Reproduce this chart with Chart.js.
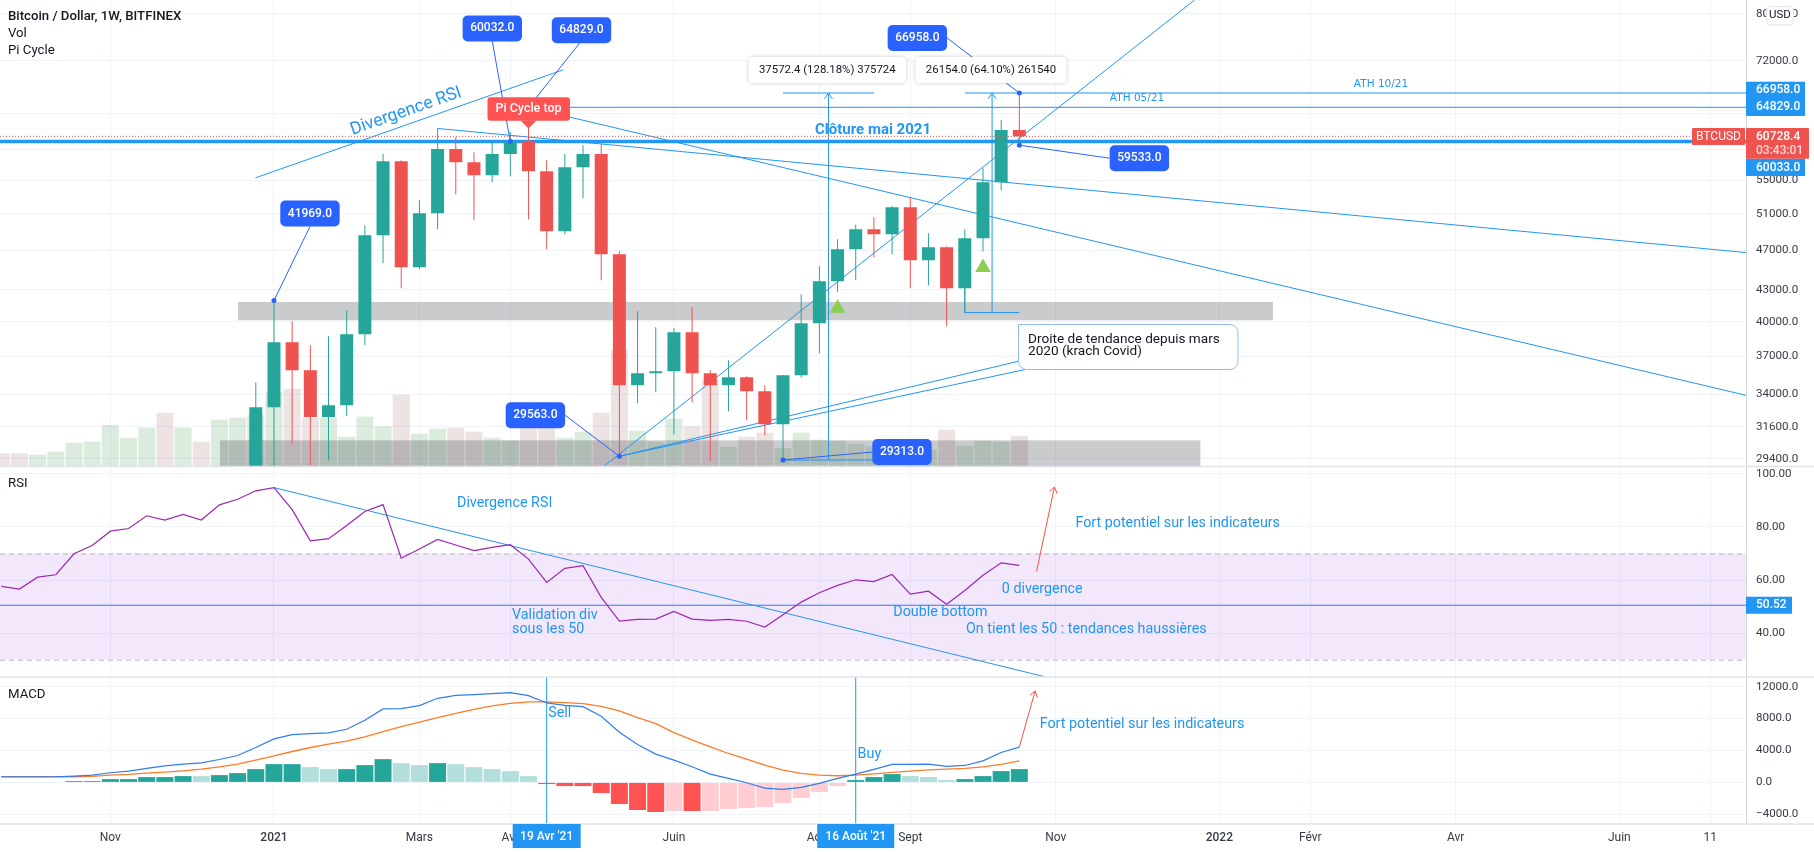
<!DOCTYPE html>
<html>
<head>
<meta charset="utf-8">
<title>Bitcoin / Dollar</title>
<script src="https://cdn.jsdelivr.net/npm/chart.js@4"></script>
<style>
  html, body { margin: 0; padding: 0; background: #fff; overflow: hidden; }
  #chart { display: block; }
</style>
</head>
<body>
<canvas id="chart" width="1814" height="852"></canvas>
<script>
const FONT = 'Roboto, "Noto Sans", sans-serif';
const BLUE = '#2196f3', LABEL_BLUE = '#2962ff', GREEN = '#26a69a', RED = '#ef5350', TICK = '#363a45';

// weekly candles, first row is week -1 : [open, high, low, close]
const candles = [
    [26250, 34916, 25800, 33005], [33005, 41969, 27700, 38207], [38207, 40057, 30411, 35873],
    [35873, 37950, 28960, 32294], [32294, 38727, 29292, 33153], [33153, 41063, 32367, 38900],
    [38900, 49727, 37950, 48620], [48620, 58350, 45647, 57436], [57436, 57550, 43148, 45238],
    [45238, 52606, 45034, 51089], [51089, 61821, 49280, 59010], [59010, 60626, 53322, 57307],
    [57307, 58611, 50288, 55654], [55654, 60218, 54782, 58350], [58350, 61313, 55530, 60032],
    [60032, 64829, 50402, 56157], [56157, 57550, 47110, 49059], [49059, 58350, 48729, 56665],
    [56665, 59543, 52843, 58350], [58350, 59680, 43934, 46583], [46583, 46890, 29563, 34681],
    [34681, 40970, 33304, 35631], [35631, 39520, 34140, 35794], [35794, 39440, 31057, 39077],
    [39077, 41341, 33378, 35631], [35631, 35873, 29248, 34681], [34681, 36690, 32708, 35312],
    [35312, 35400, 32052, 34216], [34216, 34681, 31000, 31765], [31765, 35500, 29313, 35471],
    [35471, 42569, 35300, 39879], [39879, 45340, 37273, 43834], [43834, 48184, 42760, 47110],
    [47110, 49800, 43934, 49280], [49280, 50629, 46270, 48729], [48729, 51900, 46583, 51783],
    [51783, 52963, 43148, 45957], [45957, 48840, 43440, 47320], [47320, 47430, 39609, 43148],
    [43148, 49280, 40849, 48292], [48292, 56550, 46880, 54782], [54782, 62995, 53806, 61590],
    [61590, 66958, 59533, 60728.4]
];
const firstCandle = -1;

// the indicators start at week -15
const firstWeek = -15;
const volume = [12.7, 12.7, 11.3, 14.3, 23.3, 24.3, 41, 28.3, 38.3, 53.3, 38.3, 24.3, 46.3, 48.3, 51.3, 74.3, 77.3, 48.3, 48.3, 29.3,
    49.3, 39.7, 71.3, 32.3, 37.3, 38.3, 34.3, 28.3, 25.7, 49.7, 46.3, 28.3, 34.3, 53.3, 116.3, 35.3, 24.3, 47.3, 39.7, 86.3,
    19.3, 29.3, 33.3, 18, 33.3, 26.3, 25.3, 22.3, 19.7, 18, 18, 16.3, 36.3, 20.3, 25.3, 24.3, 30.3];
const volumeSide = 'rrgggggggrgrggggrrggggrggrrggrrggrrgggrrgrrgggggggrgrgggr';
const rsi = [57.6, 56.6, 61.1, 62.0, 69.9, 73.0, 78.4, 79.4, 84.2, 82.6, 84.7, 82.6, 88.3, 90.4, 93.6, 94.8, 86.5, 74.8, 75.6, 80.5,
    85.8, 88.4, 68.2, 71.7, 75.3, 73.2, 71.1, 72.3, 73.3, 67.9, 59.1, 64.4, 65.4, 53.5, 44.5, 45.2, 45.3, 48.2, 45.3, 44.8,
    45.2, 44.5, 42.3, 46.9, 51.7, 55.2, 58.0, 60.1, 59.4, 62.1, 54.7, 55.8, 50.9, 56.1, 61.8, 66.5, 65.5];
const macd = [708, 708, 708, 708, 792, 917, 1208, 1417, 1750, 2083, 2292, 2458, 2875, 3375, 4375, 5458, 6000, 6125, 6208, 6667,
    7792, 9208, 9250, 9625, 10542, 10917, 11000, 11125, 11250, 10875, 9958, 9667, 9500, 8292, 6292, 4750, 3542, 2792, 1958, 1042,
    500, -42, -708, -875, -625, -125, 500, 1042, 1625, 2250, 2250, 2292, 2000, 2125, 2708, 3750, 4417];
const signal = [708, 708, 708, 708, 708, 750, 917, 1000, 1167, 1292, 1458, 1667, 1958, 2292, 2792, 3333, 3875, 4375, 4792, 5167,
    5708, 6375, 7000, 7542, 8125, 8667, 9167, 9583, 9917, 10083, 10083, 10000, 9875, 9542, 8958, 8125, 7375, 6250, 5333, 4458,
    3625, 2917, 2167, 1542, 1125, 917, 833, 917, 1083, 1250, 1417, 1583, 1667, 1750, 1958, 2250, 2708];
const hist = [60, -60, -60, 60, 170, 170, 417, 417, 667, 667, 792, 792, 917, 1167, 1667, 2292, 2292, 1917, 1667, 1667,
    2167, 2917, 2417, 2167, 2417, 2292, 1917, 1667, 1417, 792, -208, -458, -458, -1333, -2708, -3458, -3708, -3583, -3583, -3583,
    -3333, -3208, -3083, -2583, -1958, -1208, -458, 292, 667, 1042, 792, 667, 292, 417, 792, 1417, 1667];
const histShade = 'lrpttttttttltttttllttt' + 'lltlllllrrrrrrrprpppppppp' + 'tttlllttt' + 't';
const histColors = { t: '#26a69a', l: '#b2dfdb', r: '#ff5252', p: '#ffcdd2' };

const weekOf = n => firstWeek + n;
const series = arr => arr.map((v, n) => ({ x: weekOf(n), y: v }));

const xMin = -15.07, xMax = 80.97;

// drawings on the price pane, each [week, price] to [week, price]
const priceLines = [
    { pts: [[-1.02, 55320], [15.92, 70554]] },                  // divergence RSI
    { pts: [[9, 61821], [xMax, 46757]] },
    { pts: [[14, 64829], [xMax, 33909]] },
    { pts: [[18.13, 28890], [50.64, 82540]] },                  // main trend
    { pts: [[19, 29563], [40.94, 36607]] },
    { pts: [[19, 29563], [41.38, 35954]] },
    { pts: [[14, 64829], [xMax, 64829]] },                      // ATH 05/21
    { pts: [[38, 66958], [xMax, 66958]] },                      // ATH 10/21
    { pts: [[28, 66958], [33, 66958]] },
    { pts: [[28, 29313], [33, 29313]] },
    { pts: [[38, 40849], [41, 40849]] },
    { pts: [[38, 40849], [38, 43148]] },
    { pts: [[30.5, 29313], [30.5, 66958]], head: true },
    { pts: [[39.5, 40849], [39.5, 66958]], head: true },
    { pts: [[xMin, 60033], [xMax, 60033]], width: 3.5 }         // clôture mai 2021
];
const rsiLines = [
    { pts: [[0, 94.8], [42.4, 23.6]] },
    { pts: [[xMin, 50.52], [xMax, 50.52]], color: '#2f7fe0' },
    { pts: [[41.95, 63.3], [42.93, 95]], color: '#f4503f', head: true }
];
const macdLines = [
    { pts: [[15, -5212], [15, 13212]] },
    { pts: [[32, -5212], [32, 13212]] },
    { pts: [[41, 4458], [41.87, 11458]], color: '#f4503f', head: true }
];

// callouts: anchor on the chart, box offset from the anchor, tail offset from the box centre
const callouts = [
    { week: 0, price: 41969, dx: 36, dy: -87, tail: [0, 13] },
    { week: 13, price: 60032, dx: -18, dy: -113, tail: [0, 13] },
    { week: 14, price: 64829, dx: 53, dy: -77, tail: [-2, 13], noDot: true },
    { week: 19, price: 29563, dx: -84, dy: -41, tail: [29.7, 0] },
    { week: 28, price: 29313, dx: 119, dy: -8, tail: [-29.7, 0] },
    { week: 41, price: 66958, dx: -102, dy: -55, tail: [29.7, 0] },
    { week: 41, price: 59533, dx: 120, dy: 13, tail: [-29.7, 0] }
];

const timeTicks = { '-9': 'Nov', 0: '2021', 8: 'Mars', 13: 'Avr', 22: 'Juin', 30: 'Août', 35: 'Sept', 43: 'Nov', 52: '2022', 57: 'Févr', 65: 'Avr', 74: 'Juin', 79: '11' };
const priceTicks = [80000, 72000, 64000, 59000, 55000, 51000, 47000, 43000, 40000, 37000, 34000, 31600, 29400];

function lineDataset(line, yAxisID) {
    return {
        type: 'line', yAxisID, xAxisID: 'x', order: 10,
        data: line.pts.map(p => ({ x: p[0], y: p[1] })),
        borderColor: line.color || BLUE, borderWidth: line.width || 1,
        pointRadius: 0, tension: 0, fill: false, head: line.head
    };
}

function roundBox(c, x, y, w, h, r) {
    c.beginPath();
    c.roundRect(x, y, w, h, r);
}

function text(c, str, x, y, font, color, align) {
    c.font = font;
    c.fillStyle = color;
    c.textAlign = align || 'left';
    c.textBaseline = 'middle';
    c.fillText(str, x, y);
}

// axis boxes keep their place: no room for overhanging labels
function fitAxis(s) {
    s.paddingTop = s.paddingBottom = s.paddingLeft = s.paddingRight = 0;
    if (s.axis === 'x') s.height = 28; else s.width = 68;
}

// things Chart.js has no element for: zones, text notes, price tags
const drawings = {
    id: 'drawings',
    beforeDatasetsDraw(chart) {
        const c = chart.ctx, { x, main, rsi: r } = chart.scales;
        c.save();
        // zone under the candles
        c.fillStyle = 'rgba(42,46,57,.25)';
        c.fillRect(x.getPixelForValue(-1.98), main.getPixelForValue(41841),
            x.getPixelForValue(54.95) - x.getPixelForValue(-1.98), main.getPixelForValue(40148) - main.getPixelForValue(41841));
        // RSI band
        const y70 = r.getPixelForValue(70), y30 = r.getPixelForValue(30);
        c.fillStyle = 'rgba(140,30,220,.1)';
        c.fillRect(0, y70, x.right, y30 - y70);
        c.strokeStyle = '#bdb3c0';
        c.setLineDash([5, 4]);
        c.lineWidth = 1;
        [y70, y30].forEach(y => { c.beginPath(); c.moveTo(0, y + .5); c.lineTo(x.right, y + .5); c.stroke(); });
        c.restore();
    },
    // second zone sits on the volume bars and under the candles
    afterDatasetDraw(chart, args) {
        if (chart.data.datasets[args.index].label !== 'Vol') return;
        const c = chart.ctx, { x, main } = chart.scales;
        c.save();
        c.fillStyle = 'rgba(42,46,57,.25)';
        c.fillRect(x.getPixelForValue(-2.97), main.getPixelForValue(30640),
            x.getPixelForValue(50.96) - x.getPixelForValue(-2.97), main.bottom - main.getPixelForValue(30640));
        c.restore();
    },
    afterDatasetsDraw(chart) {
        const c = chart.ctx, { x, main } = chart.scales;
        const sx = v => x.getPixelForValue(v), sy = v => main.getPixelForValue(v);
        c.save();

        // last price dotted line
        c.strokeStyle = RED;
        c.setLineDash([1, 2]);
        c.lineWidth = 1;
        c.beginPath(); c.moveTo(0, sy(60728.4)); c.lineTo(x.right, sy(60728.4)); c.stroke();
        c.setLineDash([]);

        // arrow heads on the lines flagged head
        chart.data.datasets.forEach((d, n) => {
            if (!d.head) return;
            const pts = chart.getDatasetMeta(n).data, a = pts[0], b = pts[1];
            const ang = Math.atan2(b.y - a.y, b.x - a.x);
            c.strokeStyle = d.borderColor;
            c.beginPath();
            c.moveTo(b.x - 7 * Math.cos(ang - .6), b.y - 7 * Math.sin(ang - .6));
            c.lineTo(b.x, b.y);
            c.lineTo(b.x - 7 * Math.cos(ang + .6), b.y - 7 * Math.sin(ang + .6));
            c.stroke();
        });

        // callouts
        callouts.forEach(o => {
            const ax = sx(o.week), ay = sy(o.price), cx = ax + o.dx, cy = ay + o.dy;
            c.strokeStyle = LABEL_BLUE;
            c.lineWidth = 1;
            c.beginPath(); c.moveTo(cx + o.tail[0], cy + o.tail[1]); c.lineTo(ax, ay); c.stroke();
            c.fillStyle = LABEL_BLUE;
            roundBox(c, cx - 29.7, cy - 13, 59.4, 26, 5);
            c.fill();
            text(c, o.price.toFixed(1), cx, cy, '500 12px ' + FONT, '#fff', 'center');
        });

        // pi cycle flag
        const px = sx(14), py = sy(61821);
        c.fillStyle = '#ff5252';
        roundBox(c, px - 41, py - 31.3, 82.5, 23.7, 3);
        c.fill();
        c.beginPath(); c.moveTo(px - 8, py - 8); c.lineTo(px + 8, py - 8); c.lineTo(px, py); c.fill();
        text(c, 'Pi Cycle top', px, py - 19.5, '500 12.5px ' + FONT, '#fff', 'center');

        // measure boxes
        [['37572.4 (128.18%) 375724', 827.3, 70, 157.4], ['26154.0 (64.10%) 261540', 991, 70, 151]].forEach(b => {
            c.save();
            c.shadowColor = 'rgba(0,0,0,.2)';
            c.shadowBlur = 4;
            c.fillStyle = '#fff';
            roundBox(c, b[1] - b[3] / 2, b[2] - 13, b[3], 26, 4);
            c.fill();
            c.restore();
            text(c, b[0], b[1], b[2], '11.4px ' + FONT, '#131722', 'center');
        });

        // trend note
        c.fillStyle = '#fff';
        c.strokeStyle = '#8fbcf3';
        c.lineWidth = 1;
        roundBox(c, 1018.5, 324.5, 219.5, 45, [0, 8, 8, 8]);
        c.fill(); c.stroke();
        text(c, 'Droite de tendance depuis mars', 1028, 339.3, '13.6px ' + FONT, '#131722');
        text(c, '2020 (krach Covid)', 1028, 351.3, '13.6px ' + FONT, '#131722');

        // notes
        c.save();
        c.translate(406, 111.5);
        c.rotate(-19.3 * Math.PI / 180);
        text(c, 'Divergence RSI', 0, 0, '17.5px ' + FONT, BLUE, 'center');
        c.restore();
        text(c, 'Clôture mai 2021', 873, 130, 'bold 15px ' + FONT, BLUE, 'center');
        text(c, 'ATH 05/21', 1137, 98.7, '10.5px "DejaVu Sans"', BLUE, 'center');
        text(c, 'ATH 10/21', 1381, 84.3, '10.5px "DejaVu Sans"', BLUE, 'center');

        const note = '14.3px ' + FONT;
        [['Divergence RSI', 457, 503.3], ['Validation div', 512, 615.3], ['sous les 50', 512, 629.3],
         ['Fort potentiel sur les indicateurs', 1075.4, 523.3], ['0 divergence', 1001.8, 589.3],
         ['Double bottom', 893.3, 612.3], ['On tient les 50 : tendances haussières', 966, 629.3],
         ['Sell', 548.2, 713.3], ['Buy', 857.6, 754.7],
         ['Fort potentiel sur les indicateurs', 1039.7, 724.3]].forEach(n => text(c, n[0], n[1], n[2], note, BLUE));

        // pane titles
        const pane = '13.2px ' + FONT;
        text(c, 'Bitcoin / Dollar, 1W, BITFINEX', 8, 16.7, '500 13.2px ' + FONT, '#131722');
        text(c, 'Vol', 8, 33.3, pane, '#131722');
        text(c, 'Pi Cycle', 8, 50.7, pane, '#131722');
        text(c, 'RSI', 8, 483.7, pane, '#131722');
        text(c, 'MACD', 8, 694.7, pane, '#131722');
        c.restore();
    },
    afterDraw(chart) {
        const c = chart.ctx, { x, rsi: r } = chart.scales, W = chart.width;
        c.save();
        // pane separators
        c.strokeStyle = '#e0e3eb';
        c.lineWidth = 1.5;
        [466.5, 677, 824].forEach(y => { c.beginPath(); c.moveTo(0, y); c.lineTo(W, y); c.stroke(); });

        // tags on the price scale
        const tag = '500 12px ' + FONT;
        [[66958, 90.4, 99], [64829, 107.4, 116], [60033, 167.7, 176]].forEach(t => {
            c.fillStyle = BLUE;
            c.fillRect(1746, t[2] - 17.3, 59, 17.3);
            text(c, t[0].toFixed(1), 1756, t[1], tag, '#fff');
        });
        c.fillStyle = RED;
        roundBox(c, 1692, 128, 53, 17, 1); c.fill();
        text(c, 'BTCUSD', 1718.5, 136.7, '12px ' + FONT, '#fff', 'center');
        c.fillStyle = RED;
        roundBox(c, 1746, 128, 63, 30.7, 1); c.fill();
        text(c, '60728.4', 1756, 136.7, tag, '#fff');
        text(c, '03:43:01', 1756, 150.7, tag, '#ffd9d6');
        c.fillStyle = BLUE;
        c.fillRect(1746, r.getPixelForValue(50.52) - 8.5, 46, 17);
        text(c, '50.52', 1756, r.getPixelForValue(50.52), tag, '#fff');

        // USD button
        c.fillStyle = '#fff';
        c.strokeStyle = '#e0e3eb';
        c.lineWidth = 1;
        roundBox(c, 1766.5, 6.5, 27, 18.5, 4);
        c.fill(); c.stroke();
        text(c, 'USD', 1780, 15.5, '11.5px ' + FONT, '#131722', 'center');

        // crosshair dates
        [[15, "19 Avr '21", 68], [32, "16 Août '21", 77]].forEach(d => {
            const cx = x.getPixelForValue(d[0]);
            c.fillStyle = BLUE;
            c.fillRect(cx - d[2] / 2, 824, d[2], 24);
            text(c, d[1], cx, 837, tag, '#fff', 'center');
        });
        c.restore();
    }
};

const chart = new Chart(document.getElementById('chart').getContext('2d'), {
    data: {
        datasets: [
            {
                type: 'bar', label: 'Vol', yAxisID: 'vol', xAxisID: 'x', order: 20, grouped: false,
                data: series(volume),
                backgroundColor: volume.map((v, n) => volumeSide[n] === 'g' ? 'rgba(76,160,90,.2)' : 'rgba(150,90,90,.17)'),
                barPercentage: 1, categoryPercentage: 1, maxBarThickness: 17, inflateAmount: 0
            },
            ...priceLines.map(l => lineDataset(l, 'main')),
            {
                type: 'bar', label: 'wick', yAxisID: 'main', xAxisID: 'x', order: 5, grouped: false,
                data: candles.map((k, n) => ({ x: firstCandle + n, y: [k[2], k[1]] })),
                backgroundColor: candles.map(k => k[3] >= k[0] ? GREEN : RED),
                barPercentage: 1, categoryPercentage: 1, maxBarThickness: 1, inflateAmount: 0
            },
            {
                type: 'bar', label: 'BTCUSD', yAxisID: 'main', xAxisID: 'x', order: 4, grouped: false,
                data: candles.map((k, n) => ({ x: firstCandle + n, y: [k[0], k[3]] })),
                backgroundColor: candles.map(k => k[3] >= k[0] ? GREEN : RED),
                barPercentage: 1, categoryPercentage: 1, maxBarThickness: 13, inflateAmount: 0
            },
            {
                type: 'line', label: 'signals', yAxisID: 'main', xAxisID: 'x', order: 3, showLine: false,
                data: [{ x: 31, y: 41250 }, { x: 39, y: 45200 }],
                pointStyle: 'triangle', pointRadius: 9, pointBackgroundColor: '#8bcf4f', pointBorderWidth: 0
            },
            {
                type: 'line', label: 'anchors', yAxisID: 'main', xAxisID: 'x', order: 3, showLine: false,
                data: callouts.filter(o => !o.noDot).map(o => ({ x: o.week, y: o.price })),
                pointRadius: 2.5, pointBackgroundColor: LABEL_BLUE, pointBorderWidth: 0
            },
            ...rsiLines.map(l => lineDataset(l, 'rsi')),
            {
                type: 'line', label: 'RSI', yAxisID: 'rsi', xAxisID: 'x', order: 2,
                data: series(rsi), borderColor: '#9c27b0', borderWidth: 1.2, pointRadius: 0, tension: 0
            },
            {
                type: 'bar', label: 'Histogram', yAxisID: 'macd', xAxisID: 'x', order: 20, grouped: false,
                data: series(hist),
                backgroundColor: hist.map((v, n) => histColors[histShade[n]]),
                barPercentage: 1, categoryPercentage: 1, maxBarThickness: 17, inflateAmount: 0
            },
            ...macdLines.map(l => lineDataset(l, 'macd')),
            {
                type: 'line', label: 'Signal', yAxisID: 'macd', xAxisID: 'x', order: 3,
                data: series(signal), borderColor: '#ff7b26', borderWidth: 1.3, pointRadius: 0, tension: 0
            },
            {
                type: 'line', label: 'MACD', yAxisID: 'macd', xAxisID: 'x', order: 2,
                data: series(macd), borderColor: '#2f7df0', borderWidth: 1.2, pointRadius: 0, tension: 0
            }
        ]
    },
    options: {
        responsive: false,
        devicePixelRatio: 1,
        animation: false,
        events: [],
        layout: { autoPadding: false, padding: 0 },
        plugins: { legend: { display: false }, tooltip: { enabled: false } },
        scales: {
            x: {
                type: 'linear', min: xMin, max: xMax, position: 'bottom', offset: false,
                afterBuildTicks(s) { s.ticks = Object.keys(timeTicks).map(k => ({ value: +k })); },
                afterFit: fitAxis,
                grid: { color: '#f0f3fa', drawTicks: false, offset: false },
                border: { display: false },
                ticks: {
                    autoSkip: false, maxRotation: 0, padding: 7, color: TICK,
                    font: ctx => ({ family: FONT, size: 12, weight: ctx.tick && /^20/.test(timeTicks[ctx.tick.value]) ? '500' : '400' }),
                    callback: v => timeTicks[v]
                }
            },
            main: {
                type: 'logarithmic', position: 'right', stack: 'panes', stackWeight: 466.5, weight: 1,
                min: 28890, max: 82540,
                afterBuildTicks(s) { s.ticks = priceTicks.map(v => ({ value: v })); },
                afterFit: fitAxis,
                grid: { color: '#f0f3fa', drawTicks: false },
                border: { display: true, color: '#d6d6d6' },
                ticks: { autoSkip: false, padding: 10, color: TICK, font: { family: FONT, size: 11.6 }, callback: v => v.toFixed(1) }
            },
            rsi: {
                type: 'linear', position: 'right', stack: 'panes', stackWeight: 210.5, weight: 2,
                min: 23.5, max: 102.75,
                afterBuildTicks(s) { s.ticks = [100, 80, 60, 40].map(v => ({ value: v })); },
                afterFit: fitAxis,
                grid: { color: '#f0f3fa', drawTicks: false },
                border: { display: true, color: '#d6d6d6' },
                ticks: { autoSkip: false, padding: 10, color: TICK, font: { family: FONT, size: 11.6 }, callback: v => v.toFixed(2) }
            },
            macd: {
                type: 'linear', position: 'right', stack: 'panes', stackWeight: 147, weight: 3,
                min: -5212, max: 13212,
                afterBuildTicks(s) { s.ticks = [12000, 8000, 4000, 0, -4000].map(v => ({ value: v })); },
                afterFit: fitAxis,
                grid: { color: '#f0f3fa', drawTicks: false },
                border: { display: true, color: '#d6d6d6' },
                ticks: { autoSkip: false, padding: 10, color: TICK, font: { family: FONT, size: 11.6 }, callback: v => v.toFixed(1).replace('-', '\u2212') }
            },
            // volume overlay, zero sits on the bottom edge of the price pane
            vol: { type: 'linear', display: false, position: 'left', min: -358, max: 466 }
        }
    },
    plugins: [drawings]
});
</script>
</body>
</html>
